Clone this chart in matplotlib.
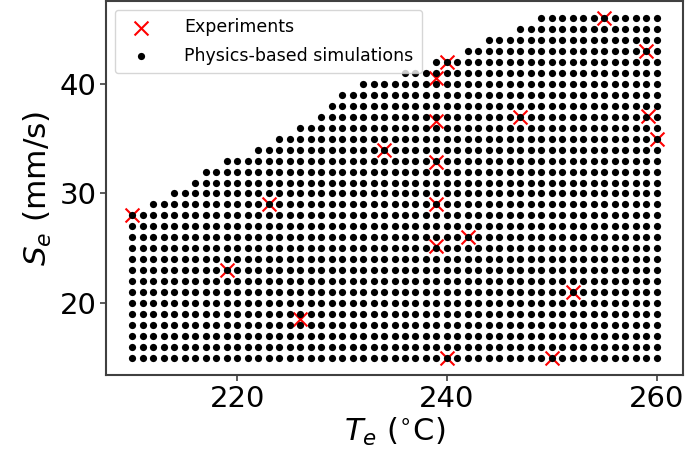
import numpy as np
import matplotlib
matplotlib.use("Agg")
import matplotlib.pyplot as plt

# simulation grid: every integer T_e, S_e from 15 up to the top edge of the feasible region
T_GRID = list(range(210, 261))
S_MIN = 15
S_MAX = [28, 28, 29, 29, 30, 30, 31, 32, 32, 33,   # 210-219
         33, 33, 34, 34, 35, 35, 36, 36, 37, 38,   # 220-229
         39, 39, 40, 40, 40, 40, 41, 41, 41, 42,   # 230-239
         42, 42, 43, 43, 44, 44, 44, 45, 45, 46,   # 240-249
         46, 46, 46, 46, 46, 46, 46, 46, 46, 46,   # 250-259
         46]                                       # 260

# experimental points
T_EXP = [210, 219, 223, 226, 234, 239, 240, 239, 239, 239,
         239, 242, 240, 250, 247, 252, 255, 259, 259.2, 260]
S_EXP = [28, 23, 29, 18.6, 34, 40.5, 42, 36.6, 32.9, 29,
         25.2, 26, 15, 15, 37, 21, 46, 43, 37.1, 35]

plt.rcParams['font.family'] = ['DejaVu Sans']
plt.rcParams['mathtext.fontset'] = 'dejavusans'

sim_T, sim_S = [], []
for t, smax in zip(T_GRID, S_MAX):
    for s in range(S_MIN, smax + 1):
        sim_T.append(t)
        sim_S.append(s)

fig = plt.figure(figsize=(6.85, 4.61), dpi=100)
ax = fig.add_axes([106 / 685, 1 - 375 / 461, 577 / 685, 374 / 461])

ax.scatter(T_EXP, S_EXP, marker='x', color='red', s=100, linewidths=1.5,
           label='Experiments')
ax.scatter(sim_T, sim_S, marker='o', color='black', s=27, linewidths=0,
           label='Physics-based simulations')

ax.set_xticks([220, 240, 260])
ax.set_yticks([20, 30, 40])
ax.tick_params(labelsize=21, length=4, width=1.2, color='0.25', pad=3)
for sp in ax.spines.values():
    sp.set_color('0.25')
    sp.set_linewidth(1.5)

ax.set_xlabel(r'$T_e$ ($^{\circ}$C)', fontsize=22, labelpad=2)
ax.set_ylabel(r'$S_e$ (mm/s)', fontsize=22.5, labelpad=4)

ax.legend(loc='upper left', fontsize=12.5, handletextpad=1.5,
          borderpad=0.5, labelspacing=0.6)

fig.savefig('out.png', dpi=100)
